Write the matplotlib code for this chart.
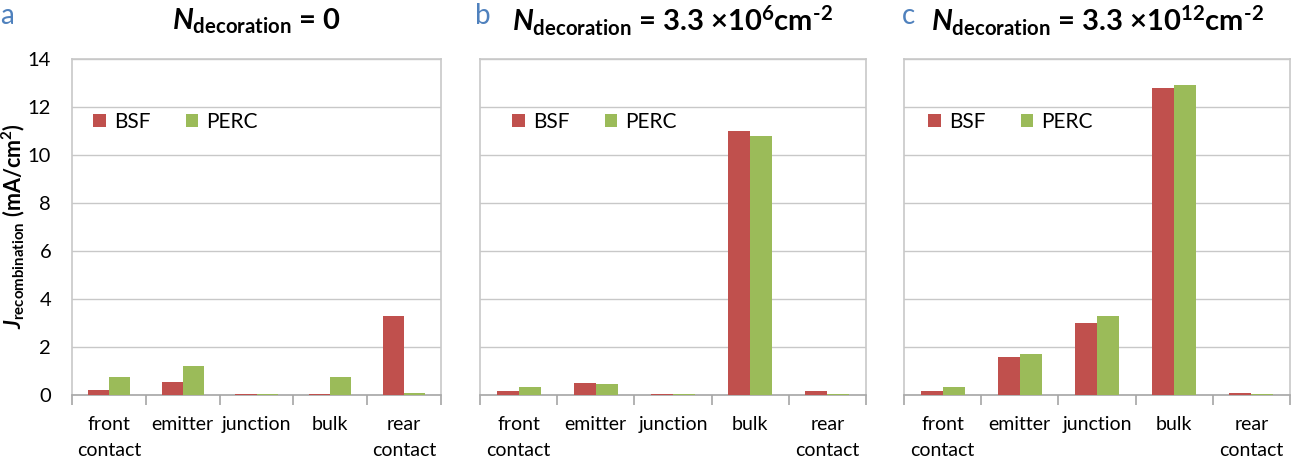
import numpy as np
import matplotlib
matplotlib.use("Agg")
import matplotlib.pyplot as plt

categories = ["front\ncontact", "emitter", "junction", "bulk", "rear\ncontact"]
series_names = ["BSF", "PERC"]

bsf_a = [0.2, 0.55, 0.05, 0.05, 3.3]
perc_a = [0.75, 1.2, 0.05, 0.75, 0.1]
bsf_b = [0.15, 0.5, 0.05, 11.0, 0.15]
perc_b = [0.35, 0.45, 0.05, 10.8, 0.05]
bsf_c = [0.15, 1.6, 3.0, 12.8, 0.1]
perc_c = [0.35, 1.7, 3.3, 12.9, 0.05]

panel_letters = ["a", "b", "c"]
titles = [
    r"$\mathit{N}_{\mathbf{decoration}}$ = 0",
    r"$\mathit{N}_{\mathbf{decoration}}$ = 3.3 ×10$^{\mathbf{6}}$cm$^{\mathbf{‐2}}$",
    r"$\mathit{N}_{\mathbf{decoration}}$ = 3.3 ×10$^{\mathbf{12}}$cm$^{\mathbf{‐2}}$",
]

FONT = "Lato"
plt.rcParams["font.family"] = FONT
plt.rcParams["mathtext.fontset"] = "custom"
plt.rcParams["mathtext.rm"] = FONT
plt.rcParams["mathtext.it"] = f"{FONT}:italic:bold"
plt.rcParams["mathtext.bf"] = f"{FONT}:bold"

RED = "#C0504D"
GREEN = "#9BBB59"
GRAY = "#C8C8C8"
BLUE = "#4F81BD"

fig = plt.figure(figsize=(12.98, 4.59), dpi=100)
W, H = 1298, 459
top, bottom = 59, 395
lefts = [72, 480, 904]
widths = [369, 386, 386]
legend_off = [21, 32, 24]
letter_x = [0, 475, 902]
data = [(bsf_a, perc_a), (bsf_b, perc_b), (bsf_c, perc_c)]

x = np.arange(len(categories))
bw = 0.285
for i, (l, w) in enumerate(zip(lefts, widths)):
    ax = fig.add_axes([l / W, 1 - bottom / H, w / W, (bottom - top) / H])
    bsf, perc = data[i]
    ax.bar(x - bw / 2, bsf, bw, color=RED, label=series_names[0], zorder=3)
    ax.bar(x + bw / 2, perc, bw, color=GREEN, label=series_names[1], zorder=3)
    ax.set_xlim(-0.5, 4.5)
    ax.set_ylim(0, 14)
    ax.set_yticks(np.arange(0, 15, 2))
    ax.yaxis.grid(True, color=GRAY, linewidth=1, zorder=0)
    ax.set_axisbelow(True)
    for s in ax.spines.values():
        s.set_color(GRAY)
        s.set_linewidth(1.2)
    ax.spines["bottom"].set_color("#A6A6A6")
    ax.set_xticks(x)
    ax.set_xticklabels(categories, fontsize=14, linespacing=1.65)
    ax.set_xticks(np.arange(-0.5, 5, 1), minor=True)
    ax.tick_params(axis="x", which="major", length=0, pad=15)
    ax.tick_params(axis="x", which="minor", length=7, color="#A6A6A6", width=1.2)
    ax.tick_params(axis="y", length=0, labelsize=14.5, pad=15)
    if i > 0:
        ax.set_yticklabels([])
    ax.legend(loc="upper left", bbox_to_anchor=(legend_off[i] / w, 0.842), ncol=2,
              frameon=False, fontsize=15, handlelength=0.6, handleheight=0.6,
              columnspacing=1.7, handletextpad=0.4, borderpad=0, borderaxespad=0)
    cx = (l + w / 2) / W
    fig.text(cx, 1 - 21 / H, titles[i], ha="center", va="center",
             fontsize=21, fontweight="bold")
    fig.text(letter_x[i] / W, 1 - 16 / H, panel_letters[i], color=BLUE,
             fontsize=20, va="center", ha="left")

fig.text(13 / W, 1 - 226 / H, r"$\mathit{J}_{\mathbf{recombination}}$ (mA/cm$^{\mathbf{2}}$)",
         rotation=90, ha="center", va="center", fontsize=15.5, fontweight="bold")

fig.savefig("out.png", dpi=100)
